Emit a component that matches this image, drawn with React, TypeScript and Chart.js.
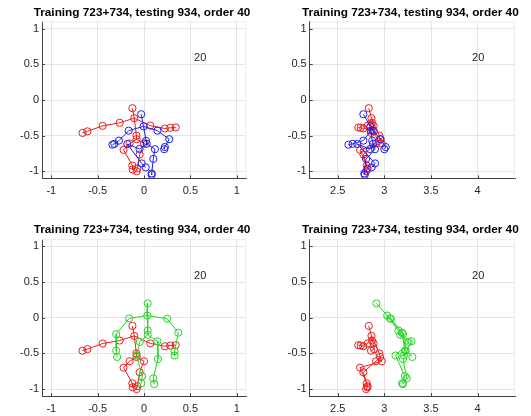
import React, { useEffect, useRef } from "react";
import { Chart, registerables } from "chart.js";
Chart.register(...registerables);

const W = 531;
const H = 416;

const titleText = "Training 723+734, testing 934, order 40";
const frameLabel = "20";

const frontXTicks = [-1, -0.5, 0, 0.5, 1];
const frontXLabels = ["-1", "-0.5", "0", "0.5", "1"];
const sideXTicks = [2.5, 3, 3.5, 4];
const sideXLabels = ["2.5", "3", "3.5", "4"];
const yTicks = [-1, -0.5, 0, 0.5, 1];
const yLabels = ["-1", "-0.5", "0", "0.5", "1"];

// joints: head, neck, L shoulder/elbow/wrist/hand, R shoulder/elbow/wrist/hand,
// spine1, spine2, L hip/knee/ankle/foot, R hip/knee/ankle/foot
const bones = [
  [0, 1],
  [1, 2, 3, 4, 5],
  [1, 6, 7, 8, 9],
  [1, 10, 11],
  [11, 12, 13, 14, 15],
  [11, 16, 17, 18, 19],
];

const redX = [-0.125, -0.105, -0.262, -0.446, -0.61, -0.663, 0.068, 0.225, 0.283, 0.342, -0.082, -0.08, -0.155, -0.22, -0.126, -0.122, 0.0, -0.047, -0.072, -0.079];
const redY = [-0.115, -0.255, -0.32, -0.362, -0.44, -0.462, -0.36, -0.4, -0.39, -0.385, -0.5, -0.55, -0.61, -0.7, -0.92, -0.975, -0.61, -0.765, -0.96, -1.0];
const redZ = [2.833, 2.862, 2.868, 2.885, 2.89, 2.857, 2.822, 2.775, 2.747, 2.721, 2.946, 2.954, 2.972, 2.74, 2.811, 2.818, 2.911, 2.775, 2.82, 2.805];

const blueX = [-0.03, -0.005, -0.165, -0.27, -0.32, -0.34, 0.145, 0.272, 0.225, 0.218, 0.022, 0.029, -0.048, -0.18, -0.025, 0.018, 0.118, 0.1, 0.083, 0.083];
const blueY = [-0.2, -0.37, -0.43, -0.57, -0.615, -0.627, -0.43, -0.55, -0.66, -0.69, -0.573, -0.615, -0.688, -0.617, -0.89, -0.945, -0.69, -0.827, -1.03, -1.05];
const blueZ = [2.775, 2.85, 2.855, 2.775, 2.66, 2.615, 2.875, 2.96, 3.015, 3.0, 2.87, 2.88, 2.845, 2.71, 2.9, 2.865, 2.9, 2.804, 2.785, 2.79];

const greenX = [0.04, 0.035, -0.16, -0.3, -0.3, -0.29, 0.25, 0.37, 0.33, 0.33, 0.04, 0.04, -0.045, -0.08, -0.02, -0.03, 0.145, 0.15, 0.1, 0.11];
const greenY = [0.2, 0.03, -0.01, -0.23, -0.46, -0.55, -0.015, -0.21, -0.47, -0.53, -0.18, -0.24, -0.34, -0.53, -0.82, -0.92, -0.33, -0.58, -0.85, -0.93];
const greenZ = [2.915, 3.03, 3.06, 3.2, 3.23, 3.3, 3.07, 3.19, 3.22, 3.21, 3.15, 3.17, 3.26, 3.12, 3.22, 3.19, 3.29, 3.2, 3.24, 3.2];

const RED = "rgb(235,30,30)";
const BLUE = "rgb(30,30,235)";
const GREEN = "rgb(35,215,35)";
const FONT = "'Liberation Sans', Arial, Helvetica, sans-serif";

type Skel = { xs: number[]; ys: number[]; color: string };

function buildDatasets(skels: Skel[]) {
  const ds: any[] = [];
  for (const s of skels) {
    for (const chain of bones) {
      ds.push({
        data: chain.map((i) => ({ x: s.xs[i], y: s.ys[i] })),
        showLine: true,
        borderColor: s.color,
        borderWidth: 1,
        pointRadius: 0,
        tension: 0,
      });
    }
    ds.push({
      data: s.xs.map((v, i) => ({ x: v, y: s.ys[i] })),
      showLine: false,
      pointRadius: 3.6,
      pointStyle: "circle",
      pointBorderColor: s.color,
      pointBackgroundColor: "rgba(0,0,0,0)",
      pointBorderWidth: 1,
      borderColor: s.color,
      backgroundColor: "rgba(0,0,0,0)",
    });
  }
  return ds;
}

const overlay = {
  id: "overlay",
  afterDraw(chart: any, _args: any, opts: any) {
    const { ctx, chartArea } = chart;
    const { left, right, top, bottom } = chartArea;
    const xs = chart.scales.x;
    const ys = chart.scales.y;
    ctx.save();
    // faint box edges
    ctx.strokeStyle = "#ececec";
    ctx.lineWidth = 1;
    ctx.beginPath();
    ctx.moveTo(left, top + 0.5);
    ctx.lineTo(right, top + 0.5);
    ctx.moveTo(right - 0.5, top);
    ctx.lineTo(right - 0.5, bottom);
    ctx.stroke();
    // inward ticks
    ctx.strokeStyle = "#404040";
    ctx.beginPath();
    for (const t of opts.xTicks) {
      const px = Math.round(xs.getPixelForValue(t)) + 0.5;
      ctx.moveTo(px, bottom);
      ctx.lineTo(px, bottom - 3);
    }
    for (const t of yTicks) {
      const py = Math.round(ys.getPixelForValue(t)) + 0.5;
      ctx.moveTo(left, py);
      ctx.lineTo(left + 3, py);
    }
    ctx.stroke();
    // title
    ctx.font = `bold 11.8px ${FONT}`;
    ctx.fillStyle = "#000";
    ctx.textAlign = "center";
    ctx.textBaseline = "middle";
    ctx.fillText(opts.title, (left + right) / 2 - 2, top - 9.3);
    // frame label
    ctx.font = `11px ${FONT}`;
    ctx.fillStyle = "#262626";
    ctx.textAlign = "left";
    ctx.fillText(opts.label, xs.getPixelForValue(opts.labelX), ys.getPixelForValue(opts.labelY));
    ctx.restore();
  },
};

type Panel = {
  left: number;
  right: number;
  top: number;
  bottom: number;
  xMin: number;
  xMax: number;
  xTicks: number[];
  xLabels: string[];
  skels: Skel[];
  labelX: number;
  labelY: number;
};

const YW = 30;
const XH = 19;

const panels: Panel[] = [
  {
    left: 42, right: 246, top: 21.6, bottom: 178.4,
    xMin: -1.1, xMax: 1.1, xTicks: frontXTicks, xLabels: frontXLabels,
    skels: [{ xs: blueX, ys: blueY, color: BLUE }, { xs: redX, ys: redY, color: RED }],
    labelX: 0.54, labelY: 0.585,
  },
  {
    left: 309.7, right: 515, top: 21.6, bottom: 178.4,
    xMin: 2.2, xMax: 4.4, xTicks: sideXTicks, xLabels: sideXLabels,
    skels: [{ xs: blueZ, ys: blueY, color: BLUE }, { xs: redZ, ys: redY, color: RED }],
    labelX: 3.94, labelY: 0.585,
  },
  {
    left: 42, right: 246, top: 239.2, bottom: 396.2,
    xMin: -1.1, xMax: 1.1, xTicks: frontXTicks, xLabels: frontXLabels,
    skels: [{ xs: greenX, ys: greenY, color: GREEN }, { xs: redX, ys: redY, color: RED }],
    labelX: 0.54, labelY: 0.589,
  },
  {
    left: 309.7, right: 515, top: 239.2, bottom: 396.2,
    xMin: 2.2, xMax: 4.4, xTicks: sideXTicks, xLabels: sideXLabels,
    skels: [{ xs: greenZ, ys: greenY, color: GREEN }, { xs: redZ, ys: redY, color: RED }],
    labelX: 3.94, labelY: 0.589,
  },
];

function PanelChart({ p }: { p: Panel }) {
  const ref = useRef<HTMLCanvasElement | null>(null);
  useEffect(() => {
    if (!ref.current) return;
    const tickFont = { family: FONT, size: 11 };
    const chart = new Chart(ref.current, {
      type: "scatter",
      data: { datasets: buildDatasets(p.skels) },
      plugins: [overlay as any],
      options: {
        animation: false,
        responsive: false,
        devicePixelRatio: 1,
        events: [],
        layout: {
          padding: {
            left: p.left - YW,
            right: W - p.right,
            top: p.top,
            bottom: Math.max(0, H - p.bottom - XH),
          },
        },
        plugins: {
          legend: { display: false },
          tooltip: { enabled: false },
          title: { display: false },
          overlay: {
            title: titleText,
            label: frameLabel,
            labelX: p.labelX,
            labelY: p.labelY,
            xTicks: p.xTicks,
          },
        } as any,
        scales: {
          x: {
            type: "linear",
            min: p.xMin,
            max: p.xMax,
            afterBuildTicks: (s: any) => {
              s.ticks = p.xTicks.map((v) => ({ value: v }));
            },
            afterFit: (s: any) => {
              s.height = XH;
            },
            ticks: {
              autoSkip: false,
              maxRotation: 0,
              padding: 6,
              color: "#262626",
              font: tickFont,
              callback: (v: any) => {
                const i = p.xTicks.indexOf(Number(v));
                return i >= 0 ? p.xLabels[i] : "";
              },
            },
            grid: { color: "#e4e4e4", drawTicks: false, lineWidth: 1 },
            border: { display: true, color: "#404040", width: 1 },
          },
          y: {
            type: "linear",
            min: -1.1,
            max: 1.1,
            afterBuildTicks: (s: any) => {
              s.ticks = yTicks.map((v) => ({ value: v }));
            },
            afterFit: (s: any) => {
              s.width = YW;
            },
            ticks: {
              autoSkip: false,
              padding: 3,
              color: "#262626",
              font: tickFont,
              callback: (v: any) => {
                const i = yTicks.indexOf(Number(v));
                return i >= 0 ? yLabels[i] : "";
              },
            },
            grid: { color: "#e4e4e4", drawTicks: false, lineWidth: 1 },
            border: { display: true, color: "#404040", width: 1 },
          },
        },
      },
    } as any);
    return () => chart.destroy();
  }, [p]);
  return (
    <canvas
      ref={ref}
      width={W}
      height={H}
      style={{ position: "absolute", left: 0, top: 0, width: W, height: H }}
    />
  );
}

export default function App() {
  return (
    <div style={{ position: "absolute", left: 0, top: 0, width: W, height: H, background: "#fff" }}>
      {panels.map((p, i) => (
        <PanelChart key={i} p={p} />
      ))}
    </div>
  );
}
